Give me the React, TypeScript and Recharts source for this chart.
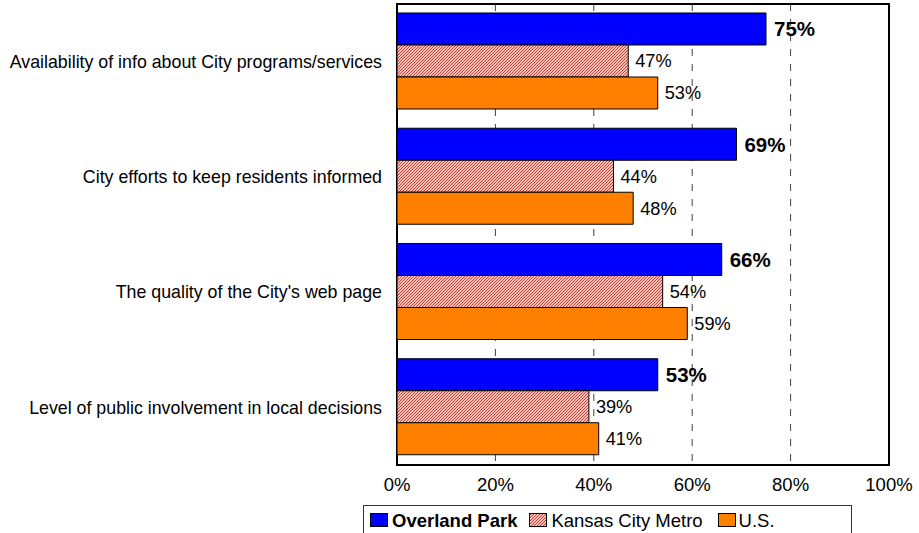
import React from "react";
import {
  BarChart,
  Bar,
  XAxis,
  YAxis,
  CartesianGrid,
  Legend,
  LabelList,
  ReferenceArea,
} from "recharts";

const categories = [
  "Availability of info about City programs/services",
  "City efforts to keep residents informed ",
  "The quality of the City's web page",
  "Level of public involvement in local decisions",
];
const overlandPark = [75, 69, 66, 53];
const kansasCityMetro = [47, 44, 54, 39];
const unitedStates = [53, 48, 59, 41];
const xTicks = [0, 20, 40, 60, 80, 100];
const seriesNames = ["Overland Park", "Kansas City Metro", "U.S."];

const data = categories.map((name, i) => ({
  name,
  op: overlandPark[i],
  kc: kansasCityMetro[i],
  us: unitedStates[i],
}));

const FONT = '"Liberation Sans", Arial, sans-serif';
const BLUE = "#0000FF";
const ORANGE = "#FF8000";
const HATCH_RED = "#D8301E";

const HatchDefs = ({ id }: { id: string }) => (
  <defs>
    <pattern id={id} patternUnits="userSpaceOnUse" width={3} height={3}>
      <rect x={0} y={0} width={3} height={3} fill="#FFFFFF" />
      <path
        d="M-0.75,0.75 L0.75,-0.75 M0,3 L3,0 M2.25,3.75 L3.75,2.25"
        stroke={HATCH_RED}
        strokeWidth={1.1}
      />
    </pattern>
  </defs>
);

const Swatch = ({ kind }: { kind: "blue" | "hatch" | "orange" }) => (
  <svg width={18} height={14} style={{ display: "block" }}>
    {kind === "hatch" && <HatchDefs id="legendHatch" />}
    <rect
      x={0.5}
      y={0.5}
      width={17}
      height={13}
      fill={kind === "blue" ? BLUE : kind === "orange" ? ORANGE : "url(#legendHatch)"}
      stroke="#000"
      strokeWidth={1}
    />
  </svg>
);

const LegendContent = () => (
  <div style={{ position: "relative", width: 919, height: 28 }}>
    <div
      style={{
        position: "absolute",
        left: 363,
        top: 0,
        width: 489,
        height: 34,
        border: "1px solid #333",
        boxSizing: "border-box",
        display: "flex",
        alignItems: "flex-start",
        paddingLeft: 6,
        paddingTop: 7,
        fontFamily: FONT,
        fontSize: 18.5,
        color: "#000",
        lineHeight: "15px",
      }}
    >
      <Swatch kind="blue" />
      <span style={{ fontWeight: "bold", marginLeft: 4, marginRight: 12 }}>
        {seriesNames[0]}
      </span>
      <Swatch kind="hatch" />
      <span style={{ marginLeft: 4, marginRight: 15 }}>{seriesNames[1]}</span>
      <Swatch kind="orange" />
      <span style={{ marginLeft: 3 }}>{seriesNames[2]}</span>
    </div>
  </div>
);

const pct = (v: any) => `${v}%`;

export default function App() {
  return (
    <div style={{ position: "absolute", left: 0, top: 0, background: "#fff" }}>
      <BarChart
        width={919}
        height={533}
        data={data}
        layout="vertical"
        margin={{ top: 4, right: 30, bottom: 0, left: 0 }}
        barCategoryGap="7.8%"
        barGap={0}
      >
        <HatchDefs id="kcHatch" />
        <CartesianGrid
          horizontal={false}
          vertical={true}
          stroke="#404040"
          strokeDasharray="7 8"
        />
        <XAxis
          type="number"
          domain={[0, 100]}
          ticks={xTicks}
          tickFormatter={pct}
          axisLine={false}
          tickLine={false}
          tickSize={6}
          tickMargin={7}
          height={40}
          interval={0}
          tick={{ fontSize: 18.5, fill: "#000", fontFamily: FONT }}
        />
        <YAxis
          type="category"
          dataKey="name"
          width={397}
          axisLine={false}
          tickLine={false}
          tickSize={0}
          tickMargin={15}
          interval={0}
          tick={{ fontSize: 17.8, fill: "#000", fontFamily: FONT }}
        />
        <Bar dataKey="op" name={seriesNames[0]} fill={BLUE} stroke="#000" strokeWidth={1} isAnimationActive={false}>
          <LabelList
            dataKey="op"
            position="right"
            offset={8}
            formatter={pct}
            style={{ fontSize: 20.5, fontWeight: "bold", fill: "#000", fontFamily: FONT }}
          />
        </Bar>
        <Bar dataKey="kc" name={seriesNames[1]} fill="url(#kcHatch)" stroke="#000" strokeWidth={1} isAnimationActive={false}>
          <LabelList
            dataKey="kc"
            position="right"
            offset={7}
            formatter={pct}
            style={{ fontSize: 18.2, fill: "#000", fontFamily: FONT }}
          />
        </Bar>
        <Bar dataKey="us" name={seriesNames[2]} fill={ORANGE} stroke="#000" strokeWidth={1} isAnimationActive={false}>
          <LabelList
            dataKey="us"
            position="right"
            offset={7}
            formatter={pct}
            style={{ fontSize: 18.2, fill: "#000", fontFamily: FONT }}
          />
        </Bar>
        <ReferenceArea
          x1={0}
          x2={100}
          fill="none"
          fillOpacity={0}
          stroke="#000"
          strokeWidth={2}
          ifOverflow="visible"
        />
        <Legend
          verticalAlign="bottom"
          content={() => <LegendContent />}
          wrapperStyle={{ left: 0, top: 505, width: 919, height: 28 }}
        />
      </BarChart>
    </div>
  );
}
